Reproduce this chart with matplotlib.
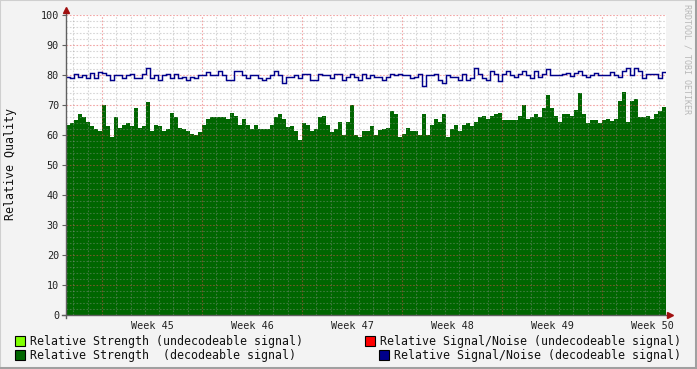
import numpy as np
import matplotlib
matplotlib.use("Agg")
import matplotlib.pyplot as plt
from matplotlib.patches import Rectangle
from matplotlib.lines import Line2D

# ---------------- data ----------------
week_labels = ["Week 45", "Week 46", "Week 47", "Week 48", "Week 49", "Week 50"]
y_ticks = [0, 10, 20, 30, 40, 50, 60, 70, 80, 90, 100]

strength_decodeable = [
    63.5, 64, 65, 67, 66, 64.5, 63, 62, 61.5, 70, 63, 59.5, 66, 62.5, 63.5, 64, 63, 69, 62.5, 63, 71, 61.5, 63.5, 63, 61.5,
    62, 67.5, 66, 62.5, 62, 61.5, 60.5, 60, 61, 63.5, 65.5, 66, 66, 66, 66, 65.5, 67.5, 66.5, 63.5, 65.5, 63.5, 62, 63.5, 62, 62,
    62, 63.5, 66, 67, 65.5, 62.8, 63, 61.2, 58.5, 64, 63.3, 61.5, 62, 66, 66.5, 63.5, 61, 62, 64.5, 60, 64.5, 70, 60, 59.5, 61.5,
    61.5, 63, 60, 61.8, 62, 62.5, 68, 67, 59.5, 60.5, 62.5, 61.5, 61.5, 60, 67, 60, 63.5, 65.5, 64.5, 67, 59.5, 62, 63.5, 61.5, 63.5,
    64, 63, 64.5, 66, 66.5, 65.5, 66.5, 67, 67.5, 65, 65, 65, 65, 66.5, 70, 65.5, 66, 67, 66, 69, 73.5, 69, 66.5, 64.5, 67,
    67, 66.5, 68.5, 74, 67, 64, 65, 65, 64, 65, 65.2, 64.8, 65.5, 71.5, 74.5, 64.5, 71.5, 72, 66, 66, 66.5, 65.5, 67, 68, 69.5,
]

snr_decodeable = [
    79.4, 79, 80.5, 79.5, 80, 79, 80.6, 79, 81, 80.6, 80, 78.5, 80, 80, 79, 80, 80.5, 79, 79, 80.5, 82.5, 79, 80, 78.5, 80,
    80.5, 79, 80.5, 79, 79.5, 78.5, 79.5, 79, 80, 80, 81, 80, 80, 81.5, 80, 78.5, 78.5, 81.5, 81.5, 80, 79, 80, 80, 79, 78.5,
    79, 80, 81.5, 80, 77.5, 79.5, 79.5, 80, 79, 80.5, 80.5, 78.5, 78.5, 80.5, 80, 80, 79, 80.5, 80.5, 78.5, 79.5, 80.5, 79.5, 78.5, 80.5,
    79, 80, 79.4, 79.4, 78.5, 79.4, 80.5, 80, 80.5, 80, 80, 79, 79.5, 80.5, 76.5, 80, 80, 80.5, 78.5, 77.5, 80, 79.5, 79.5, 78.5, 80.5,
    78.5, 79, 82.5, 80.5, 79, 78.5, 81.5, 80.5, 78, 80.5, 81.5, 80, 79.5, 80.5, 81.5, 80, 79, 81.5, 79.5, 80.5, 82, 80, 80, 80, 80.5,
    80.6, 79.7, 80.6, 81.5, 80, 79.5, 80, 80.6, 80, 80, 80, 81, 80, 79.5, 81.5, 82.5, 80, 82.5, 81.5, 79, 80.5, 80.5, 80.5, 79, 81,
]

legend_left = ["Relative Strength (undecodeable signal)", "Relative Strength  (decodeable signal)"]
legend_right = ["Relative Signal/Noise (undecodeable signal)", "Relative Signal/Noise (decodeable signal)"]

# ---------------- layout ----------------
W, H = 697, 369
MONO = "DejaVu Sans Mono"
BG = "#f3f3f3"

def fx(px):
    return px / W

def fy(py):
    return 1 - py / H

fig = plt.figure(figsize=(W / 100, H / 100), dpi=100, facecolor=BG)

# frame
fig.patches.append(Rectangle((0, 0), 1, 1, transform=fig.transFigure, fill=False,
                             edgecolor="#cfcfcf", lw=1.5, zorder=0))
fig.lines.append(Line2D([fx(695.5), fx(695.5)], [0, 1], transform=fig.transFigure, color="#a0a0a0", lw=2.2))
fig.lines.append(Line2D([0, 1], [fy(367.5), fy(367.5)], transform=fig.transFigure, color="#a0a0a0", lw=2.2))

ax = fig.add_axes([fx(66), fy(315), 600 / W, 300 / H])
ax.set_facecolor("white")

n = len(strength_decodeable)
days_total = 42.0
edges = np.linspace(0, days_total, n + 1)

ax.stairs(strength_decodeable, edges, fill=True, baseline=0, color="#006600", zorder=2)
ax.stairs(snr_decodeable, edges, baseline=None, color="#00008b", lw=1.05, zorder=4)

ax.set_xlim(0, days_total)
ax.set_ylim(0, 100)

# grid
week0 = 36 / (100 / 7)  # first week boundary (days)
minor_x = [week0 - 2 + k for k in range(0, 43) if 0 < week0 - 2 + k < days_total]
major_x = [week0 + 7 * k for k in range(6)]
dash = (0, (1.5, 1.5))
for x in minor_x:
    if not any(abs(x - m) < 1e-6 for m in major_x):
        ax.axvline(x, color=(0.6, 0.6, 0.6), alpha=0.4, lw=0.8, ls=dash, zorder=3)
for yv in range(2, 100, 2):
    if yv % 10:
        ax.axhline(yv, color=(0.6, 0.6, 0.6), alpha=0.4, lw=0.8, ls=dash, zorder=3)
for x in major_x:
    ax.axvline(x, color=(0.9, 0.3, 0.3), alpha=0.5, lw=0.8, ls=dash, zorder=3)
for yv in range(10, 101, 10):
    ax.axhline(yv, color=(0.9, 0.3, 0.3), alpha=0.5, lw=0.8, ls=dash, zorder=3)

for s in ax.spines.values():
    s.set_visible(False)

ax.set_yticks(y_ticks)
ax.set_yticklabels([str(v) for v in y_ticks], fontfamily=MONO, fontsize=7.3, color="#222222")
ax.tick_params(axis="y", length=3, width=0.8, color="#606060", pad=2)

label_pos = [m + 3.5 for m in major_x]
ax.set_xticks(label_pos)
ax.set_xticklabels(week_labels, fontfamily=MONO, fontsize=7.3, color="#222222")
ax.tick_params(axis="x", length=0, pad=4)

# axis lines with arrows
fig.lines.append(Line2D([fx(66), fx(66)], [fy(318), fy(12)], transform=fig.transFigure, color="#606060", lw=1.0))
fig.lines.append(Line2D([fx(62), fx(668)], [fy(315), fy(315)], transform=fig.transFigure, color="#606060", lw=1.0))
fig.lines.append(Line2D([fx(66)], [fy(10)], transform=fig.transFigure, marker="^", color="#a01010",
                        markersize=4, lw=0))
fig.lines.append(Line2D([fx(670)], [fy(315)], transform=fig.transFigure, marker=">", color="#a01010",
                        markersize=4, lw=0))

# labels
fig.text(fx(11), fy(164), "Relative Quality", rotation=90, ha="center", va="center",
         fontfamily=MONO, fontsize=8.4, color="#111111")
fig.text(fx(687), fy(4), "RRDTOOL / TOBI OETIKER", rotation=270, ha="center", va="top",
         fontfamily=MONO, fontsize=6, color="#b8b8b8")

# legend
def swatch(px, py, color):
    fig.patches.append(Rectangle((fx(px), fy(py + 10)), 10 / W, 10 / H, transform=fig.transFigure,
                                 facecolor=color, edgecolor="black", lw=0.8))

swatch(15, 336, "#80ff00")
swatch(15, 350, "#006600")
swatch(365, 336, "#ff0000")
swatch(379, 350, "#00008b")
fig.text(fx(30), fy(341), legend_left[0], ha="left", va="center", fontfamily=MONO, fontsize=8.4, color="#111111")
fig.text(fx(30), fy(355), legend_left[1], ha="left", va="center", fontfamily=MONO, fontsize=8.4, color="#111111")
fig.text(fx(380), fy(341), legend_right[0], ha="left", va="center", fontfamily=MONO, fontsize=8.4, color="#111111")
fig.text(fx(394), fy(355), legend_right[1], ha="left", va="center", fontfamily=MONO, fontsize=8.4, color="#111111")

fig.savefig("out.png", dpi=100, facecolor=BG)
